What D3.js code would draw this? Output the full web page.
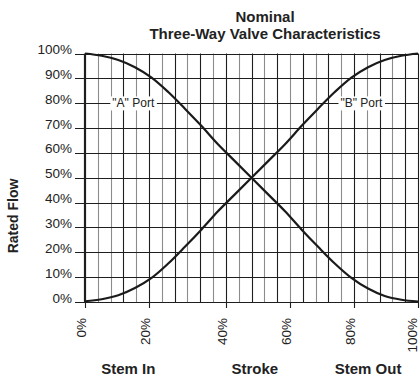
<!DOCTYPE html>
<html>
<head>
<meta charset="utf-8">
<script src="https://cdn.jsdelivr.net/npm/d3@7"></script>
<style>
  html, body { margin: 0; padding: 0; background: #fff; }
  svg { display: block; font-family: "Liberation Sans", Arial, Helvetica, sans-serif; }
</style>
</head>
<body>
<svg id="chart" width="420" height="379"></svg>
<script>
// Valve stroke (% of travel) and rated flow (%) for each port
const stroke = [0, 5, 10, 15, 20, 25, 30, 35, 40, 45, 50, 55, 60, 65, 70, 75, 80, 85, 90, 95, 100];
const portA  = [100, 99.1, 97.4, 94.5, 90.3, 84.5, 77.8, 70.8, 63.4, 56.7, 50, 43.3, 36.6, 29.2, 22.2, 15.5, 9.7, 5.4, 2.4, 0.9, 0.2];
const portB  = [0.3, 1.1, 2.7, 5.6, 9.7, 15.5, 22.2, 29.2, 36.6, 43.3, 50, 56.7, 63.4, 70.8, 77.8, 84.5, 90.3, 94.5, 97.4, 99.1, 100];

// Flow axis ticks
const flowTicks = [0, 10, 20, 30, 40, 50, 60, 70, 80, 90, 100];

// Stroke axis: the grid has 26 columns; labels sit on chosen grid lines
const gridColumns = 26;
const strokeTickLabels  = ["0%", "20%", "40%", "60%", "80%", "100%"];
const strokeTickColumns = [0, 5, 11, 16, 21, 26];

const titleLines = ["Nominal", "Three-Way Valve Characteristics"];
const bottomLabels = [
  { text: "Stem In",  at: 13 },
  { text: "Stroke",   at: 51 },
  { text: "Stem Out", at: 85 }
];
const portLabels = [
  { text: "\"A\" Port", at: 14.5, flow: 80 },
  { text: "\"B\" Port", at: 83, flow: 80 }
];

const svg = d3.select("#chart");
const margin = { left: 85, right: 2, top: 53.5, bottom: 77 };
const W = 420, H = 379;

const x = d3.scaleLinear().domain([0, 100]).range([margin.left, W - margin.right]);
const y = d3.scaleLinear().domain([0, 100]).range([H - margin.bottom, margin.top]);
const col = d3.scaleLinear().domain([0, gridColumns]).range(x.range());

const dark = "#1e1e1e";
const grey = "#8c8c8c";

// vertical grid lines, alternating shades
svg.append("g").selectAll("line")
  .data(d3.range(1, gridColumns + 1))
  .join("line")
  .attr("x1", d => Math.round(col(d)) + 0.5)
  .attr("x2", d => Math.round(col(d)) + 0.5)
  .attr("y1", y(0))
  .attr("y2", y(100))
  .attr("stroke", d => (d % 2 === 1 && d > 1) || d === gridColumns ? dark : grey)
  .attr("stroke-width", 1.1);

// horizontal grid lines and flow ticks
svg.append("g").selectAll("line")
  .data(flowTicks)
  .join("line")
  .attr("x1", x(0) - 10)
  .attr("x2", x(100))
  .attr("y1", d => Math.round(y(d)) + 0.5)
  .attr("y2", d => Math.round(y(d)) + 0.5)
  .attr("stroke", dark)
  .attr("stroke-width", 1.1);

// flow tick labels
svg.append("g").selectAll("text")
  .data(flowTicks)
  .join("text")
  .attr("x", x(0) - 13)
  .attr("y", d => y(d) + 0.5)
  .attr("text-anchor", "end")
  .attr("font-size", 13.5)
  .attr("fill", "#222")
  .text(d => d + "%");

// stroke tick marks below the axis
svg.append("g").selectAll("line")
  .data(strokeTickColumns)
  .join("line")
  .attr("x1", d => Math.round(col(d)) + 0.5)
  .attr("x2", d => Math.round(col(d)) + 0.5)
  .attr("y1", y(0))
  .attr("y2", y(0) + 6)
  .attr("stroke", dark)
  .attr("stroke-width", 1.1);

// stroke tick labels, rotated (the last one is kept inside the canvas)
svg.append("g").selectAll("text")
  .data(strokeTickColumns)
  .join("text")
  .attr("transform", d => `translate(${Math.min(col(d) + 1, W - 3)},${y(0) + 16}) rotate(-90)`)
  .attr("text-anchor", "end")
  .attr("font-size", 13.5)
  .attr("fill", "#222")
  .text((d, i) => strokeTickLabels[i]);

// left axis
svg.append("line")
  .attr("x1", x(0)).attr("x2", x(0))
  .attr("y1", y(100)).attr("y2", y(0) + 1)
  .attr("stroke", dark).attr("stroke-width", 2.2);

// flow curves
const line = d3.line()
  .x((d, i) => x(stroke[i]))
  .y(d => y(d))
  .curve(d3.curveCatmullRom.alpha(0.5));

[portA, portB].forEach(series => {
  svg.append("path")
    .attr("d", line(series))
    .attr("fill", "none")
    .attr("stroke", "#1a1a1a")
    .attr("stroke-width", 2.2);
});

// port labels on white boxes
portLabels.forEach(p => {
  const g = svg.append("g").attr("transform", `translate(${x(p.at)},${y(p.flow)})`);
  const t = g.append("text")
    .attr("text-anchor", "middle")
    .attr("dy", "0.35em")
    .attr("font-size", 12)
    .attr("fill", "#222")
    .text(p.text);
  const bb = t.node().getBBox();
  g.insert("rect", "text")
    .attr("x", bb.x - 2).attr("y", bb.y)
    .attr("width", bb.width + 4).attr("height", bb.height)
    .attr("fill", "#fff");
});

// title
svg.append("g").selectAll("text")
  .data(titleLines)
  .join("text")
  .attr("x", 265)
  .attr("y", (d, i) => 21.5 + i * 17.5)
  .attr("text-anchor", "middle")
  .attr("font-size", 15)
  .attr("font-weight", "bold")
  .attr("fill", "#222")
  .text(d => d);

// axis titles
svg.append("text")
  .attr("transform", `translate(18,216) rotate(-90)`)
  .attr("text-anchor", "middle")
  .attr("font-size", 14)
  .attr("font-weight", "bold")
  .attr("fill", "#222")
  .text("Rated Flow");

svg.append("g").selectAll("text")
  .data(bottomLabels)
  .join("text")
  .attr("x", d => x(d.at))
  .attr("y", 373.5)
  .attr("text-anchor", "middle")
  .attr("font-size", 15)
  .attr("font-weight", "bold")
  .attr("fill", "#222")
  .text(d => d.text);
</script>
</body>
</html>
